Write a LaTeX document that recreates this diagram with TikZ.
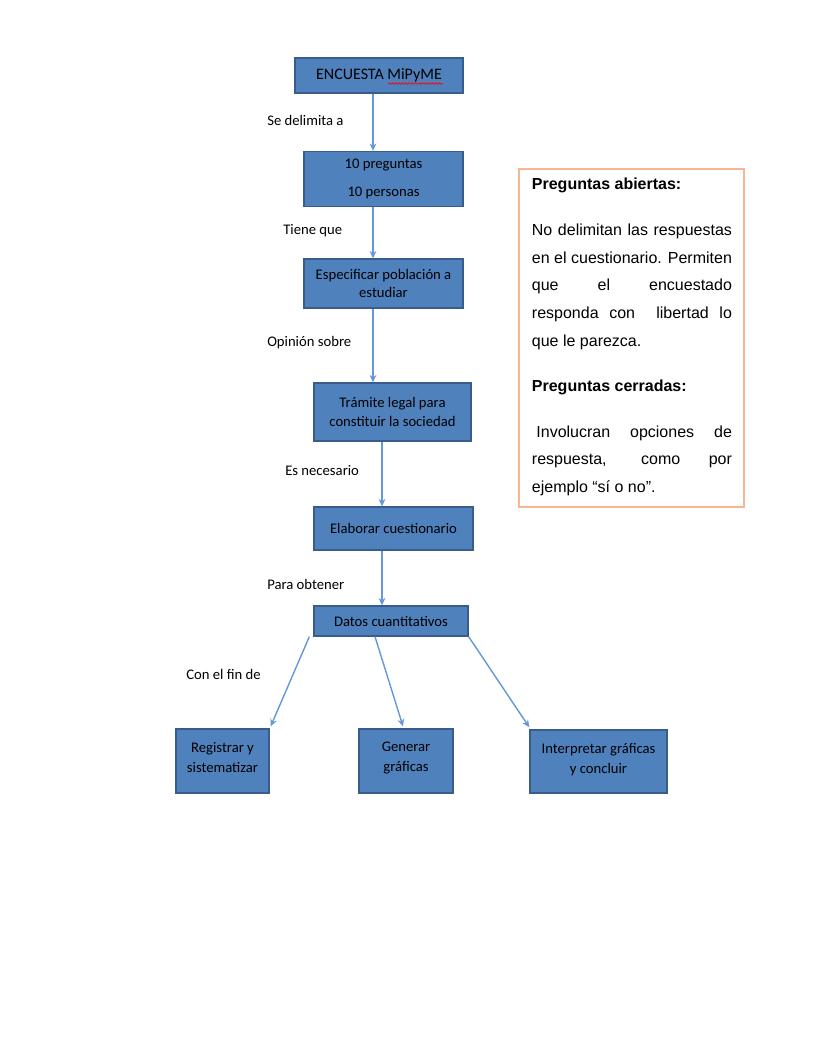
\documentclass[tikz,border=0pt]{standalone}
\usepackage{fontspec}
\setmainfont{Carlito}
\newfontfamily\arialf{Liberation Sans}
\usetikzlibrary{arrows.meta,decorations.pathmorphing}
\definecolor{boxfill}{RGB}{79,129,189}
\definecolor{boxline}{RGB}{56,93,138}
\definecolor{arrowc}{RGB}{100,152,214}
\definecolor{orangeline}{RGB}{247,182,142}
\tikzset{
  stepbox/.style={draw=boxline, fill=boxfill, line width=1pt, align=center,
    inner sep=2pt, text=black, font=\fontsize{11}{14.5}\selectfont},
  arr/.style={draw=arrowc, line width=1.05pt, -{Stealth[length=5.5pt,width=5pt]}},
  lab/.style={anchor=west, inner sep=0pt, font=\fontsize{11}{13}\selectfont}
}
\begin{document}
\begin{tikzpicture}[x=0.75pt,y=-0.75pt]
\useasboundingbox[fill=white] (0,0) rectangle (815,1055);

% boxes
\node[stepbox, minimum width=126pt, minimum height=26.25pt, font=\fontsize{12}{14}\selectfont] (b1) at (379,75.5) {ENCUESTA MiPyME};
\node[stepbox, minimum width=119.25pt, minimum height=41.25pt] (b2) at (383.5,179) {10 preguntas\\[7pt]10 personas};
\node[stepbox, minimum width=119.25pt, minimum height=36.75pt, font=\fontsize{11}{13.5}\selectfont] (b3) at (383.5,283.5) {Especificar población a\\estudiar};
\node[stepbox, minimum width=117.75pt, minimum height=43.5pt] (b4) at (392.5,412) {Trámite legal para\\constituir la sociedad};
\node[stepbox, minimum width=119.25pt, minimum height=32.25pt] (b5) at (393.5,528.5) {Elaborar cuestionario};
\node[stepbox, minimum width=115.5pt, minimum height=22.5pt] (b6) at (391,621) {Datos cuantitativos};
\node[stepbox, minimum width=69.75pt, minimum height=48pt, font=\fontsize{11}{15}\selectfont] (b7) at (222.5,761) {Registrar y\\sistematizar\\[-10pt]\mbox{}};
\node[stepbox, minimum width=70.5pt, minimum height=48pt, font=\fontsize{11}{15}\selectfont] (b8) at (406,761) {Generar\\gráficas\\[-8.5pt]\mbox{}};
\node[stepbox, minimum width=102.75pt, minimum height=47.25pt, font=\fontsize{11}{15}\selectfont] (b9) at (598.5,761.5) {Interpretar gráficas\\y concluir\\[-10pt]\mbox{}};

% spell-check underline
\draw[red, line width=0.5pt, decorate, decoration={snake, amplitude=0.6pt, segment length=2.5pt}]
  ([shift={(9,8)}]b1.center) -- ([shift={(64,8)}]b1.center);

% arrows
\draw[arr] ([shift={(-6,0)}]b1.south) -- ([shift={(-10.5,0)}]b2.north);
\draw[arr] ([shift={(-10.5,0)}]b2.south) -- ([shift={(-10.5,0)}]b3.north);
\draw[arr] ([shift={(-10.5,0)}]b3.south) -- ([shift={(-19.5,0)}]b4.north);
\draw[arr] ([shift={(-10.5,0)}]b4.south) -- ([shift={(-11.5,0)}]b5.north);
\draw[arr] ([shift={(-11.5,0)}]b5.south) -- ([shift={(-9,0)}]b6.north);
\draw[arr] ([shift={(-4,0)}]b6.south west) -- ([shift={(1,-2)}]b7.north east);
\draw[arr] ([shift={(-16,0)}]b6.south) -- ([shift={(-3,-2)}]b8.north);
\draw[arr] (b6.south east) -- ([shift={(0,-2)}]b9.north west);

% connector labels
\node[lab] (l1) at (267,120) {Se delimita a};
\node[lab] (l2) at (283,231) {Tiene que};
\node[lab] (l3) at (267,343) {Opinión sobre};
\node[lab] (l4) at (285,471) {Es necesario};
\node[lab] (l5) at (267,584) {Para obtener};
\node[lab] (l6) at (186,674) {Con el fin de};

% note box
\node[draw=orangeline, line width=2pt, minimum width=168.75pt, minimum height=253.5pt, inner sep=0pt] (note) at (631.5,338) {};
\node[anchor=north west, inner sep=0pt, text width=150pt, align=justify,
  font=\arialf\fontsize{12}{20.7}\selectfont] (notetext) at ([shift={(14,10)}]note.north west)
{\tolerance=10000\emergencystretch=20pt
\textbf{Preguntas abiertas:}\par\vspace{14pt}
No delimitan las respuestas\linebreak en el cuestionario. Permiten\linebreak que el encuestado\linebreak responda con\ \ libertad lo\linebreak que le parezca.\par\vspace{13pt}
\textbf{Preguntas cerradas:}\par\vspace{14pt}
\hspace*{0.28em}Involucran opciones de\linebreak respuesta, como por\linebreak ejemplo “sí o no”.\par};
\end{tikzpicture}
\end{document}
